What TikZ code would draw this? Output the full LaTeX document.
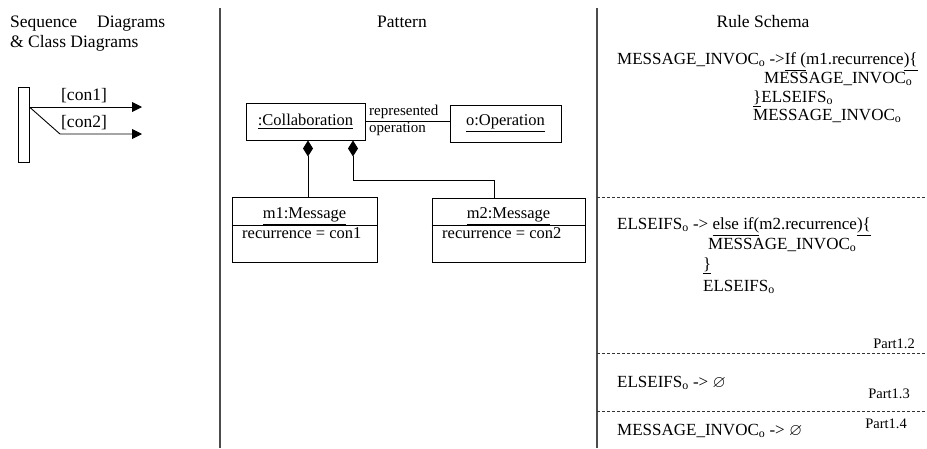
\documentclass[tikz,border=0pt]{standalone}
\usepackage{fontspec}
\setmainfont{Liberation Serif}
\usepackage{amssymb}
\usetikzlibrary{arrows.meta}
\begin{document}
\begin{tikzpicture}[x=1pt,y=-1pt,
  hdr/.style={inner sep=0pt, font=\fontsize{17.5}{20}\selectfont},
  rule/.style={inner sep=0pt, anchor=base west, font=\fontsize{17}{20}\selectfont},
  pat/.style={inner sep=0pt, font=\fontsize{16.5}{19}\selectfont},
  small/.style={inner sep=0pt, anchor=base west, font=\fontsize{15}{17}\selectfont},
  partlbl/.style={inner sep=0pt, anchor=base east, font=\fontsize{14.5}{17}\selectfont},
  sepline/.style={draw=black!70, line width=1.3pt},
  dashsep/.style={draw=black!80, line width=0.8pt, dash pattern=on 3pt off 2pt},
  box/.style={draw, line width=0.9pt, inner sep=0pt},
  conn/.style={draw, line width=0.9pt},
  comp/.style={{Diamond[length=16pt,width=10pt]}-},
  msg/.style={-{Triangle[length=10pt,width=10pt]}},
]
\useasboundingbox (0,0) rectangle (927,448);
\newcommand{\sbo}{\textsubscript{o}}

% separators
\draw[sepline] (220,8) -- (220,448);
\draw[sepline] (597,8) -- (597,448);
\draw[dashsep] (597,197) -- (927,197);
\draw[dashsep] (597,353) -- (927,353);
\draw[dashsep] (597,411) -- (927,411);

% headers
\node[hdr, anchor=base west] (h1) at (10,27) {\makebox[155pt][s]{Sequence Diagrams}};
\node[hdr, anchor=base west] (h1b) at (10,47) {\& Class Diagrams};
\node[hdr, anchor=base] (h2) at (402,27) {Pattern};
\node[hdr, anchor=base] (h3) at (763,27) {Rule Schema};

% left sequence fragment
\node[box, minimum width=11, minimum height=75] (bar) at (23.5,124.5) {};
\coordinate (e1) at (142,107);
\coordinate (k2) at (60,134);
\coordinate (e2) at (142,134);
\draw[conn, msg] (bar.east |- e1) -- (e1);
\draw[conn, msg] (bar.east |- e1) -- (k2) -- (e2);
\node[hdr, anchor=base] (c1) at (84,100) {[con1]};
\node[hdr, anchor=base] (c2) at (84,127) {[con2]};

% pattern
\node[box, pat, minimum width=119, minimum height=37] (collab) at (305.5,121.5) {\underline{:Collaboration}};
\node[box, pat, minimum width=111, minimum height=37] (oper) at (505.5,123.5) {\underline{o:Operation}};
\draw[conn] (collab.east) -- (collab.east -| oper.west);
\node[small] (rep) at (369,115) {represented};
\node[small] (opl) at (369,132) {operation};

\node[box, minimum width=145, minimum height=65] (m1) at (304.5,229.5) {};
\node[box, minimum width=153, minimum height=64] (m2) at (508.5,230) {};
\draw[conn] (m1.west |- 0,225) -- (m1.east |- 0,225);
\draw[conn] (m2.west |- 0,225) -- (m2.east |- 0,225);
\node[pat, anchor=base] (m1t) at (304.5,218) {\underline{m1:Message}};
\node[pat, anchor=base] (m2t) at (508.5,218) {\underline{m2:Message}};
\node[pat, anchor=base west] (m1a) at (242,238) {recurrence = con1};
\node[pat, anchor=base west] (m2a) at (442,238) {recurrence = con2};

\draw[conn, comp] (collab.south -| 308,0) -- (m1.north -| 308,0);
\draw[conn, comp] (collab.south -| 353,0) |- (494,180) -- (m2.north -| 494,0);

% rule schema
\node[rule] (r1) at (617,64) {MESSAGE\_INVOC\sbo{} ->\underline{If (}m1.recurrence\underline{)\{}};
\node[rule] (r2) at (764,83) {MESSAGE\_INVOC\sbo};
\node[rule] (r3) at (753,102) {\underline{\}}ELSEIFS\sbo};
\node[rule] (r4) at (753,120) {MESSAGE\_INVOC\sbo};

\node[rule] (s1) at (617,229) {ELSEIFS\sbo{} -> \underline{else if(}m2.recurrence\underline{)\{}};
\node[rule] (s2) at (708,249) {MESSAGE\_INVOC\sbo};
\node[rule] (s3) at (703,269) {\underline{\}}};
\node[rule] (s4) at (703,291) {ELSEIFS\sbo};
\node[partlbl] (p2) at (915,348) {Part1.2};

\node[rule] (t1) at (617,387) {ELSEIFS\sbo{} -> $\varnothing$};
\node[partlbl] (p3) at (910,398) {Part1.3};

\node[rule] (u1) at (617,435) {MESSAGE\_INVOC\sbo{} -> $\varnothing$};
\node[partlbl] (p4) at (907,428) {Part1.4};
\end{tikzpicture}
\end{document}
